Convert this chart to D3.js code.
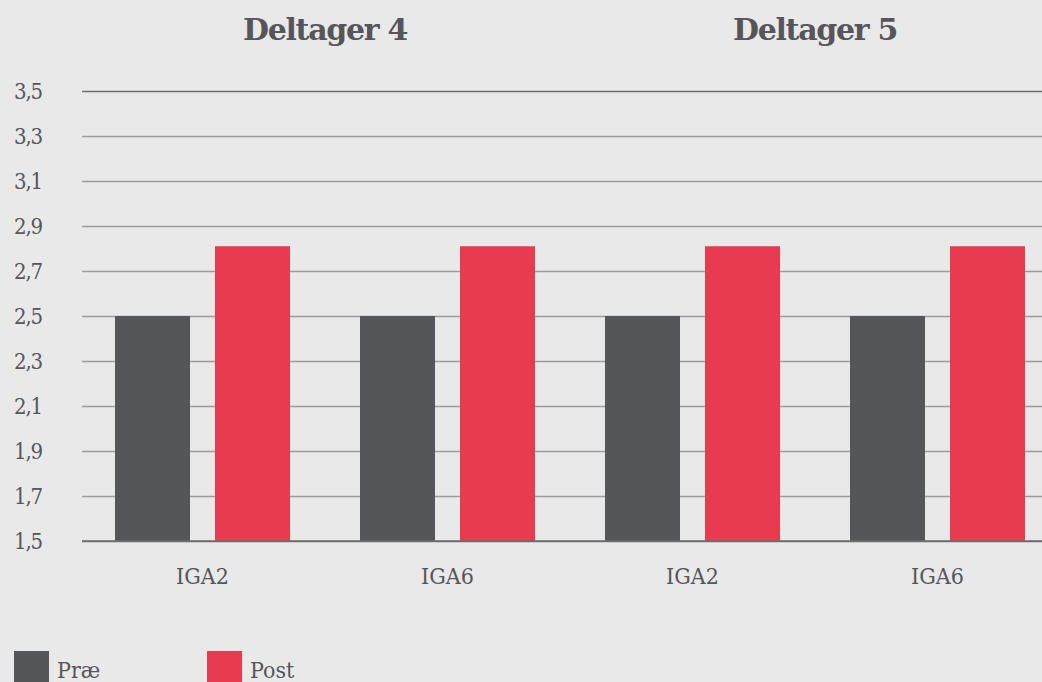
<!DOCTYPE html>
<html>
<head>
<meta charset="utf-8">
<script src="https://cdn.jsdelivr.net/npm/d3@7"></script>
<style>
  html, body { margin: 0; padding: 0; background: #e9e9e9; overflow: hidden; }
  svg { display: block; }
</style>
</head>
<body>
<div id="chart"></div>
<script>
// data
var groupTitles = ["Deltager 4", "Deltager 5"];
var categories = ["IGA2", "IGA6", "IGA2", "IGA6"];
var categoryGroup = [0, 0, 1, 1];
var seriesNames = ["Præ", "Post"];
var praeValues = [2.5, 2.5, 2.5, 2.5];
var postValues = [2.81, 2.81, 2.81, 2.81];
var yTicks = [1.5, 1.7, 1.9, 2.1, 2.3, 2.5, 2.7, 2.9, 3.1, 3.3, 3.5];

var W = 1042, H = 682;
var colors = ["#55565a", "#e83b50"];
var textColor = "#56565a";
var labelFont = "'DejaVu Serif Condensed', 'DejaVu Serif', serif";

var svg = d3.select("#chart").append("svg")
    .attr("width", W)
    .attr("height", H);

svg.append("rect").attr("width", W).attr("height", H).attr("fill", "#e9e9e9");

// scales
var x = d3.scaleBand()
    .domain(d3.range(categories.length))
    .range([80, 1060])
    .padding(0);

var xSub = d3.scaleBand()
    .domain(seriesNames)
    .range([0, x.bandwidth()])
    .paddingInner(0.25)
    .paddingOuter(0.35);

var y = d3.scaleLinear()
    .domain([1.5, 3.5])
    .range([541, 91]);

// gridlines + y labels
var yAxis = d3.axisLeft(y)
    .tickValues(yTicks)
    .tickSize(-(W - 82))
    .tickFormat(function (d) { return d3.format(".1f")(d).replace(".", ","); });

var gy = svg.append("g")
    .attr("transform", "translate(82,0)")
    .call(yAxis);
gy.select(".domain").remove();
gy.selectAll(".tick line")
    .attr("stroke", function (d) { return (d === 3.5 || d === 1.5) ? "#6e6e72" : "#9c9c9c"; })
    .attr("stroke-width", 1.5);
gy.selectAll(".tick text")
    .attr("x", -68)
    .attr("dy", "0.34em")
    .attr("text-anchor", "start")
    .attr("fill", textColor)
    .style("font-family", labelFont)
    .style("font-size", "22px")
    .style("letter-spacing", "-1.2px");

// bars
var rows = categories.map(function (c, i) {
    return { i: i, values: [praeValues[i], postValues[i]] };
});

var groupsG = svg.selectAll("g.cat")
    .data(rows)
    .enter()
    .append("g")
    .attr("class", "cat")
    .attr("transform", function (d) { return "translate(" + x(d.i) + ",0)"; });

groupsG.selectAll("rect")
    .data(function (d) { return d.values.map(function (v, k) { return { key: seriesNames[k], v: v, k: k }; }); })
    .enter()
    .append("rect")
    .attr("x", function (d) { return xSub(d.key); })
    .attr("y", function (d) { return y(d.v); })
    .attr("width", xSub.bandwidth())
    .attr("height", function (d) { return y(1.5) - y(d.v); })
    .attr("fill", function (d) { return colors[d.k]; });

// bottom line over bars
svg.append("line")
    .attr("x1", 82).attr("x2", W)
    .attr("y1", y(1.5)).attr("y2", y(1.5))
    .attr("stroke", "#6e6e72").attr("stroke-width", 1.5);

// category labels
svg.selectAll("text.cat")
    .data(categories)
    .enter()
    .append("text")
    .attr("class", "cat")
    .attr("x", function (d, i) { return x(i) + x.bandwidth() / 2; })
    .attr("y", 584)
    .attr("text-anchor", "middle")
    .attr("fill", textColor)
    .style("font-family", labelFont)
    .style("font-size", "23px")
    .text(function (d) { return d; });

// group titles
svg.selectAll("text.title")
    .data(groupTitles)
    .enter()
    .append("text")
    .attr("class", "title")
    .attr("x", function (d, g) {
        var idx = d3.range(categories.length).filter(function (i) { return categoryGroup[i] === g; });
        return d3.mean(idx, function (i) { return x(i) + x.bandwidth() / 2; });
    })
    .attr("y", 40)
    .attr("text-anchor", "middle")
    .attr("fill", textColor)
    .style("font-family", "'DejaVu Serif', serif")
    .style("font-weight", "bold")
    .style("font-size", "30px")
    .style("letter-spacing", "-1.3px")
    .text(function (d) { return d; });

// legend
var legend = svg.selectAll("g.legend")
    .data(seriesNames)
    .enter()
    .append("g")
    .attr("class", "legend")
    .attr("transform", function (d, i) { return "translate(" + (14 + i * 193) + ",651)"; });
legend.append("rect")
    .attr("width", 35).attr("height", 35)
    .attr("fill", function (d, i) { return colors[i]; });
legend.append("text")
    .attr("x", 43)
    .attr("y", 27)
    .attr("fill", textColor)
    .style("font-family", labelFont)
    .style("font-size", "23px")
    .text(function (d) { return d; });
</script>
</body>
</html>
